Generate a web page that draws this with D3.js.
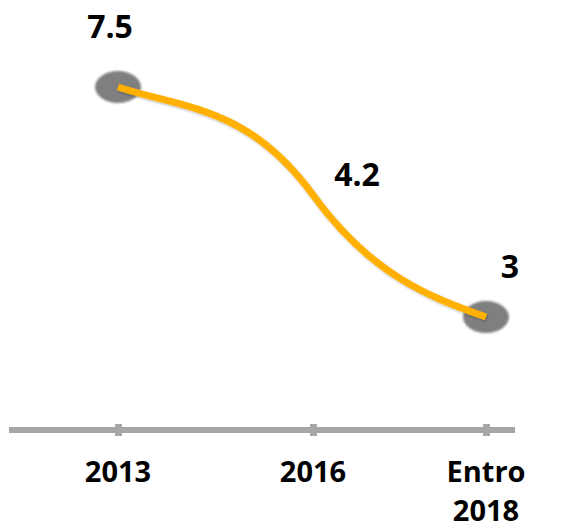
<!DOCTYPE html>
<head>
<meta charset="utf-8">
<style>
body { margin: 0; background: #fff; }
svg { display: block; }
.lbl { font-family: "Open Sans", sans-serif; font-weight: 700; fill: #000; }
</style>
</head>
<body>
<svg width="564" height="528"></svg>
<script src="https://d3js.org/d3.v7.min.js"></script>
<script>
// dati
var categories = ["2013", "2016", "Entro 2018"];
var values = [7.5, 4.2, 3];
var valueLabels = ["7.5", "4.2", "3"];
var markers = [true, false, true];

var svg = d3.select("svg");

// scale
var x = d3.scaleOrdinal().domain(categories).range([118, 313, 486]);
var y = d3.scaleLinear().domain([3, 4.2, 7.5]).range([317, 195, 87]);

var defs = svg.append("defs");
defs.append("filter").attr("id", "soft")
  .append("feGaussianBlur").attr("stdDeviation", 0.8);
var sh = defs.append("filter").attr("id", "shadow")
  .attr("x", "-10%").attr("y", "-10%").attr("width", "120%").attr("height", "130%");
sh.append("feDropShadow").attr("dx", 1).attr("dy", 1.5).attr("stdDeviation", 1.2)
  .attr("flood-color", "#000").attr("flood-opacity", 0.25);

// curva: tangente ripida al centro, piatta agli estremi
function curveS(context) {
  var pts;
  return {
    areaStart: function() {}, areaEnd: function() {},
    lineStart: function() { pts = []; },
    point: function(px, py) { pts.push([px, py]); },
    lineEnd: function() {
      var n = pts.length, m = [], i;
      for (i = 0; i < n; i++) {
        if (i === 0) m.push(0.6 * (pts[1][1] - pts[0][1]) / (pts[1][0] - pts[0][0]));
        else if (i === n - 1) m.push(0.5 * (pts[i][1] - pts[i-1][1]) / (pts[i][0] - pts[i-1][0]));
        else m.push(2.2 * (pts[i+1][1] - pts[i-1][1]) / (pts[i+1][0] - pts[i-1][0]));
      }
      context.moveTo(pts[0][0], pts[0][1]);
      for (i = 1; i < n; i++) {
        var h = (pts[i][0] - pts[i-1][0]) / 3;
        context.bezierCurveTo(pts[i-1][0] + h, pts[i-1][1] + m[i-1] * h,
                              pts[i][0] - h, pts[i][1] - m[i] * h,
                              pts[i][0], pts[i][1]);
      }
    }
  };
}

var data = categories.map(function(c, i) {
  return { cat: c, v: values[i], label: valueLabels[i], marker: markers[i] };
});

// asse
svg.append("line")
  .attr("x1", 9).attr("x2", 515).attr("y1", 430).attr("y2", 430)
  .attr("stroke", "#a6a6a6").attr("stroke-width", 6);

var axis = svg.append("g")
  .attr("transform", "translate(0,430)")
  .call(d3.axisBottom(x).tickSize(6).tickFormat(""));
axis.select(".domain").remove();
axis.selectAll(".tick line")
  .attr("y1", -6).attr("y2", 6)
  .attr("stroke", "#a6a6a6").attr("stroke-width", 7);

// etichette categorie
svg.append("g").selectAll("text")
  .data(categories)
  .enter().append("text")
  .attr("class", "lbl")
  .attr("font-size", 29)
  .attr("text-anchor", "middle")
  .attr("transform", function(d) { return "translate(" + x(d) + ",0)"; })
  .each(function(d) {
    var parts = d.split(" ");
    var t = d3.select(this);
    parts.forEach(function(p, i) {
      t.append("tspan").attr("x", 0).attr("y", 482 + i * 39).text(p);
    });
  });

// marcatori
svg.append("g").selectAll("ellipse")
  .data(data.filter(function(d) { return d.marker; }))
  .enter().append("ellipse")
  .attr("cx", function(d) { return x(d.cat); })
  .attr("cy", function(d) { return y(d.v); })
  .attr("rx", 23).attr("ry", 16)
  .attr("fill", "#7f7f7f")
  .attr("filter", "url(#soft)");

// linea
var line = d3.line()
  .x(function(d) { return x(d.cat); })
  .y(function(d) { return y(d.v); })
  .curve(curveS);

svg.append("path")
  .datum(data)
  .attr("d", line)
  .attr("fill", "none")
  .attr("stroke", "#ffb000")
  .attr("stroke-width", 7)
  .attr("filter", "url(#shadow)");

// etichette valori
var offs = [[-8, -49], [44, -9], [24, -39]];
svg.append("g").selectAll("text")
  .data(data)
  .enter().append("text")
  .attr("class", "lbl")
  .attr("font-size", 32)
  .attr("text-anchor", "middle")
  .attr("x", function(d, i) { return x(d.cat) + offs[i][0]; })
  .attr("y", function(d, i) { return y(d.v) + offs[i][1]; })
  .text(function(d) { return d.label; });
</script>
</body>
